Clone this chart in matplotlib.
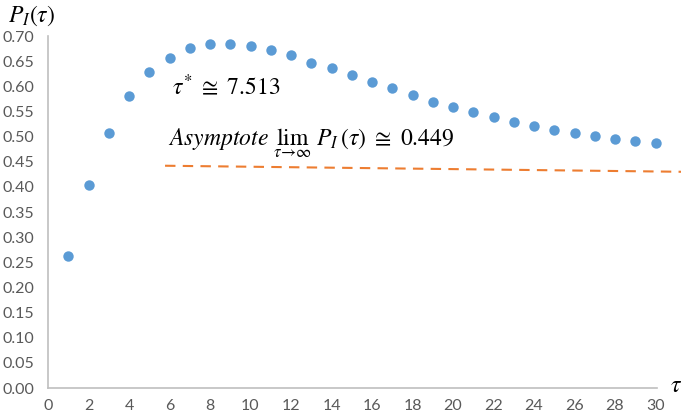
import matplotlib.pyplot as plt

# valores
tau = list(range(1, 31))
p_i = [0.263, 0.404, 0.507, 0.581, 0.629, 0.657, 0.677, 0.684, 0.684, 0.680,
       0.672, 0.662, 0.647, 0.636, 0.622, 0.608, 0.596, 0.582, 0.569, 0.559,
       0.548, 0.538, 0.529, 0.522, 0.514, 0.507, 0.501, 0.496, 0.491, 0.487]

# linea discontinua de la asintota (dibujada a mano en el original)
asint_x = [5.78, 31.26]
asint_y = [0.442, 0.430]

yticks = [i * 0.05 for i in range(15)]
xticks = list(range(0, 31, 2))

plt.rcParams['mathtext.fontset'] = 'stix'
plt.rcParams['font.family'] = ['Lato', 'DejaVu Sans']

fig = plt.figure(figsize=(6.81, 4.17), dpi=100)
ax = fig.add_axes([48/681, 29/417, 609/681, 352/417])

ax.plot(tau, p_i, 'o', color='#5B9BD5', markersize=7.5, markeredgewidth=0, clip_on=False)
ax.plot(asint_x, asint_y, color='#ED7D31', linewidth=1.5, dashes=(5, 3.5), clip_on=False)

ax.set_xlim(0, 609/20.25)
ax.set_ylim(0, 0.70)
ax.set_xticks(xticks)
ax.set_yticks(yticks)
ax.set_yticklabels(['%.2f' % v for v in yticks])

for s in ['top', 'right']:
    ax.spines[s].set_visible(False)
for s in ['left', 'bottom']:
    ax.spines[s].set_color('#BFBFBF')
    ax.spines[s].set_linewidth(1.2)
ax.tick_params(axis='both', length=0, labelsize=11.5, labelcolor='#595959')
ax.tick_params(axis='x', pad=8)
ax.tick_params(axis='y', pad=10)

ax.text(6.12, 0.584, r'$\tau^{*}\ \cong\ 7.513$', fontsize=17, va='baseline')
ax.text(5.93, 0.481, r'$Asymptote\ \lim_{\tau\to\infty}\ P_I(\tau)\ \cong\ 0.449$',
        fontsize=17, va='baseline')

fig.text(8/681, 1 - 16/417, r'$P_I(\tau)$', fontsize=17, va='center', ha='left')
fig.text(676/681, 1 - 385/417, r'$\tau$', fontsize=17, va='center', ha='center')

plt.savefig('out.png', dpi=100)
